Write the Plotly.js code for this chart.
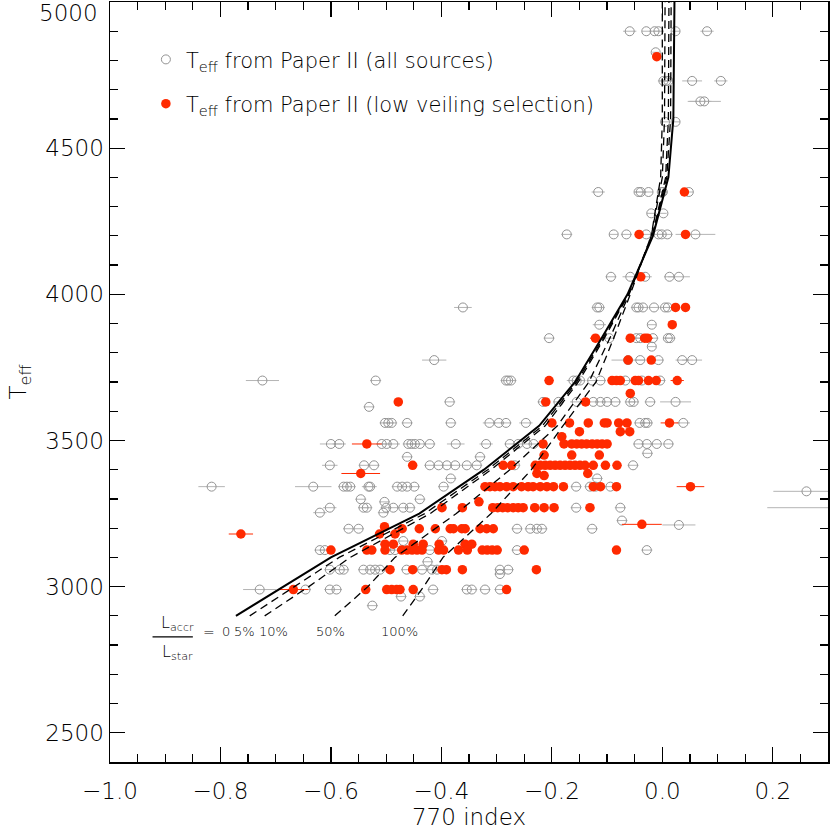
<!DOCTYPE html>
<html>
<head>
<meta charset="utf-8">
<script src="https://cdn.plot.ly/plotly-3.0.1.min.js"></script>
<style>
  html, body { margin: 0; padding: 0; background: #fff; }
  #graph { width: 830px; height: 830px; }
</style>
</head>
<body>
<div id="graph"></div>
<script>
// [770 index, Teff, error on index]
var allSources = [
  [-0.059,4900,.012],[-0.029,4900,.008],[-0.014,4900,.008],[-0.007,4900,.010],[0.024,4900,.008],[0.081,4900,.012],
  [-0.012,4828,.006],
  [0.002,4730,.010],[0.007,4730,.010],[0.011,4730,.010],[0.054,4730,.018],[0.106,4730,.012],
  [0.069,4660,.020],[0.076,4660,.030],
  [0.005,4590,.008],[0.024,4590,.008],
  [-0.116,4350,.012],[-0.043,4350,.008],[-0.039,4350,.010],[-0.025,4350,.008],[-0.001,4350,.006],[0.001,4350,.006],[0.048,4350,.008],
  [-0.020,4277,.008],[0.002,4277,.006],
  [-0.173,4205,.010],[-0.088,4205,.008],[-0.065,4205,.010],[-0.029,4205,.012],[-0.007,4205,.010],[-0.001,4205,.008],[0.009,4205,.010],[0.060,4205,.036],
  [-0.093,4060,.010],[-0.058,4060,.014],[-0.031,4060,.012],[0.013,4060,.010],[0.030,4060,.020],
  [-0.361,3955,.016],[-0.118,3955,.010],[-0.114,3955,.010],[-0.047,3955,.010],[-0.043,3955,.010],[-0.035,3955,.010],[-0.015,3955,.010],[0.005,3955,.010],[0.010,3955,.010],
  [-0.114,3896,.012],[-0.019,3896,.008],
  [-0.205,3850,.010],[-0.096,3850,.010],[-0.047,3850,.010],[-0.040,3850,.010],[-0.017,3850,.010],[0.010,3850,.008],[0.014,3850,.010],
  [-0.019,3821,.008],
  [-0.413,3775,.022],[-0.062,3775,.030],[-0.040,3775,.010],[-0.007,3775,.010],[0.036,3775,.012],[0.054,3775,.018],
  [-0.724,3705,.030],[-0.519,3705,.010],[-0.283,3705,.010],[-0.279,3705,.010],[-0.274,3705,.010],[-0.161,3705,.012],[-0.155,3705,.010],[-0.149,3705,.010],[-0.127,3705,.010],[-0.112,3705,.010],[-0.067,3705,.010],[-0.037,3705,.010],[-0.004,3705,.010],
  [-0.385,3632,.010],[-0.216,3632,.010],[-0.188,3632,.010],[-0.155,3632,.012],[-0.125,3632,.010],[-0.112,3632,.010],[-0.100,3632,.010],[-0.085,3632,.010],[-0.058,3632,.010],[-0.052,3632,.010],[-0.022,3632,.010],[0.024,3632,.028],
  [-0.531,3615,.010],
  [-0.502,3560,.010],[-0.496,3560,.010],[-0.490,3560,.010],[-0.462,3560,.010],[-0.383,3560,.010],[-0.313,3560,.012],[-0.296,3560,.010],[-0.283,3560,.010],[-0.247,3560,.012],[-0.041,3560,.010],[-0.031,3560,.010],[-0.027,3560,.010],[0.038,3560,.012],
  [-0.600,3488,.020],[-0.585,3488,.012],[-0.508,3488,.010],[-0.499,3488,.010],[-0.487,3488,.012],[-0.460,3488,.010],[-0.454,3488,.010],[-0.448,3488,.010],[-0.439,3488,.010],[-0.421,3488,.010],[-0.374,3488,.016],[-0.319,3488,.012],[-0.276,3488,.010],[-0.261,3488,.010],[-0.245,3488,.010],[-0.233,3488,.010],[-0.043,3488,.010],[-0.028,3488,.010],[-0.010,3488,.010],[0.011,3488,.010],
  [-0.027,3456,.010],
  [-0.462,3444,.010],[-0.330,3444,.010],
  [-0.602,3415,.014],[-0.540,3415,.010],[-0.522,3415,.010],[-0.421,3415,.010],[-0.405,3415,.010],[-0.390,3415,.010],[-0.375,3415,.010],[-0.354,3415,.010],[-0.336,3415,.010],[-0.267,3415,.010],[-0.053,3415,.010],
  [-0.383,3370,.010],[-0.118,3370,.010],
  [-0.816,3342,.024],[-0.632,3342,.033],[-0.577,3342,.010],[-0.571,3342,.010],[-0.565,3342,.010],[-0.532,3342,.012],[-0.529,3342,.012],[-0.480,3342,.010],[-0.471,3342,.010],[-0.462,3342,.010],[-0.449,3342,.010],[-0.396,3342,.010],[-0.156,3342,.010],[-0.131,3342,.010],[-0.121,3342,.010],[-0.094,3342,.010],
  [0.261,3326,.060],
  [-0.546,3299,.010],[-0.439,3299,.010],
  [-0.503,3290,.010],
  [-0.602,3270,.012],[-0.541,3270,.010],[-0.535,3270,.010],[-0.500,3270,.010],[-0.487,3270,.010],[-0.469,3270,.010],[-0.457,3270,.010],[-0.156,3270,.010],[-0.076,3270,.010],[0.330,3270,.140],
  [-0.620,3253,.012],[-0.505,3253,.010],
  [-0.073,3226,.010],
  [0.030,3211,.030],
  [-0.568,3198,.010],[-0.550,3198,.010],[-0.263,3198,.010],[-0.239,3198,.010],[-0.227,3198,.010],[-0.218,3198,.010],[-0.127,3198,.010],
  [-0.469,3156,.010],[-0.399,3156,.010],
  [-0.620,3125,.010],[-0.611,3125,.010],[-0.493,3125,.010],[-0.484,3125,.010],[-0.421,3125,.010],[-0.263,3125,.010],[-0.028,3125,.010],
  [-0.425,3085,.010],
  [-0.602,3058,.010],[-0.584,3058,.010],[-0.577,3058,.010],[-0.541,3058,.010],[-0.529,3058,.010],[-0.520,3058,.010],[-0.511,3058,.010],[-0.463,3058,.010],[-0.435,3058,.010],[-0.417,3058,.010],[-0.408,3058,.010],[-0.294,3058,.010],[-0.279,3058,.010],
  [-0.294,3043,.010],
  [-0.729,2990,.030],[-0.646,2990,.010],[-0.602,2990,.010],[-0.590,2990,.010],[-0.415,2990,.010],[-0.354,2990,.010],[-0.345,2990,.010],[-0.321,2990,.010],[-0.294,2990,.010],
  [-0.473,2966,.010],[-0.439,2966,.010],
  [-0.525,2935,.010]
];

var lowVeiling = [
  [-0.010,4813,.008],
  [0.040,4350,.008],
  [-0.042,4205,.008],[0.042,4205,.008],
  [-0.039,4060,.008],
  [0.024,3955,.008],[0.042,3955,.008],
  [0.018,3896,.006],
  [-0.121,3850,.010],[-0.058,3850,.008],[-0.032,3850,.008],[-0.027,3850,.010],
  [-0.062,3775,.008],[-0.020,3775,.008],
  [-0.205,3705,.008],[-0.091,3705,.008],[-0.083,3705,.008],[-0.076,3705,.008],[-0.049,3705,.008],[-0.043,3705,.008],[-0.025,3705,.008],[-0.011,3705,.008],[0.027,3705,.012],
  [-0.058,3661,.008],
  [-0.478,3632,.008],[-0.211,3632,.008],[-0.139,3632,.008],
  [-0.200,3560,.008],[-0.168,3560,.008],[-0.134,3560,.008],[-0.105,3560,.008],[-0.100,3560,.008],[-0.079,3560,.008],[-0.064,3560,.008],[0.013,3560,.016],
  [-0.150,3530,.008],[-0.076,3530,.008],[-0.059,3530,.008],
  [-0.182,3513,.008],
  [-0.535,3488,.027],[-0.216,3488,.008],[-0.178,3488,.008],[-0.164,3488,.008],[-0.155,3488,.008],[-0.146,3488,.008],[-0.137,3488,.008],[-0.127,3488,.008],[-0.118,3488,.008],[-0.109,3488,.008],[-0.100,3488,.008],
  [-0.214,3450,.008],[-0.164,3450,.008],[-0.114,3450,.008],
  [-0.452,3415,.006],[-0.288,3415,.008],[-0.273,3415,.008],[-0.230,3415,.008],[-0.221,3415,.008],[-0.212,3415,.008],[-0.203,3415,.008],[-0.194,3415,.008],[-0.185,3415,.008],[-0.176,3415,.008],[-0.167,3415,.008],[-0.158,3415,.008],[-0.149,3415,.008],[-0.140,3415,.008],[-0.125,3415,.008],[-0.103,3415,.008],[-0.082,3415,.008],
  [-0.546,3387,.035],[-0.227,3387,.008],[-0.135,3387,.008],
  [-0.214,3380,.008],
  [-0.321,3342,.008],[-0.312,3342,.008],[-0.303,3342,.008],[-0.294,3342,.008],[-0.282,3342,.008],[-0.270,3342,.008],[-0.255,3342,.008],[-0.243,3342,.008],[-0.234,3342,.008],[-0.221,3342,.008],[-0.209,3342,.008],[-0.197,3342,.008],[-0.179,3342,.008],[-0.125,3342,.008],[-0.112,3342,.008],[-0.083,3342,.008],[0.051,3342,.025],
  [-0.332,3290,.008],
  [-0.399,3270,.008],[-0.362,3270,.008],[-0.307,3270,.008],[-0.298,3270,.008],[-0.289,3270,.008],[-0.280,3270,.008],[-0.270,3270,.008],[-0.261,3270,.008],[-0.252,3270,.008],[-0.231,3270,.008],[-0.214,3270,.008],[-0.196,3270,.008],[-0.131,3270,.008],
  [-0.037,3213,.036],
  [-0.503,3205,.008],
  [-0.471,3198,.008],[-0.440,3198,.008],[-0.411,3198,.008],[-0.384,3198,.008],[-0.378,3198,.008],[-0.363,3198,.008],[-0.357,3198,.008],[-0.330,3198,.008],[-0.318,3198,.008],[-0.306,3198,.008],
  [-0.763,3180,.022],[-0.512,3180,.008],[-0.484,3180,.008],
  [-0.502,3145,.008],[-0.487,3145,.008],[-0.451,3145,.008],[-0.433,3145,.008],[-0.404,3145,.008],[-0.357,3145,.008],[-0.345,3145,.008],
  [-0.600,3125,.008],[-0.535,3125,.008],[-0.526,3125,.008],[-0.502,3125,.008],[-0.472,3125,.008],[-0.462,3125,.008],[-0.453,3125,.008],[-0.444,3125,.008],[-0.435,3125,.008],[-0.405,3125,.008],[-0.396,3125,.008],[-0.369,3125,.008],[-0.353,3125,.008],[-0.326,3125,.008],[-0.317,3125,.008],[-0.308,3125,.008],[-0.299,3125,.008],[-0.250,3125,.008],[-0.083,3125,.008],
  [-0.493,3058,.008],[-0.452,3058,.008],[-0.399,3058,.008],[-0.391,3058,.008],[-0.362,3058,.008],[-0.228,3058,.008],
  [-0.668,2990,.027],[-0.537,2990,.008],[-0.499,2990,.008],[-0.490,2990,.008],[-0.481,2990,.008],[-0.475,2990,.008],[-0.451,2990,.008],[-0.282,2990,.008]
];

// accretion models, Laccr/Lstar = 0, 5%, 10%, 50%, 100%
var modelTeff = [2900, 3000, 3100, 3250, 3400, 3550, 3700, 3850, 4000, 4200, 4400, 4600, 5000];
var idx0   = [-0.772, -0.685, -0.600, -0.440, -0.323, -0.223, -0.158, -0.110, -0.063, -0.017, 0.011, 0.020, 0.022];
var idx5   = [-0.747, -0.665, -0.585, -0.430, -0.316, -0.217, -0.155, -0.107, -0.062, -0.018, 0.008, 0.015, 0.016];
var idx10  = [-0.720, -0.640, -0.565, -0.420, -0.310, -0.212, -0.152, -0.105, -0.061, -0.018, 0.006, 0.011, 0.012];
var idx50  = [-0.593, -0.533, -0.484, -0.373, -0.276, -0.190, -0.133, -0.095, -0.060, -0.020, 0.000, 0.004, 0.005];
var idx100 = [-0.470, -0.432, -0.397, -0.310, -0.237, -0.180, -0.120, -0.088, -0.058, -0.020, -0.003, 0.000, 0.000];
var modelLabels = ['0', '5%', '10%', '50%', '100%'];

var FONT = 'DejaVu Sans, Verdana, sans-serif';
var W = 200;   // thin strokes, like the vector font of the original
var RED = '#ff2a00';

function col(arr, i) { return arr.map(function (r) { return r[i]; }); }

function drawGraph() {
    var allTrace, lowTrace, data, layout, labelX, annotations;

    allTrace = {
        x: col(allSources, 0), y: col(allSources, 1),
        error_x: {type: 'data', array: col(allSources, 2), color: '#b4b4b4', thickness: 1, width: 0},
        type: 'scatter', mode: 'markers',
        name: 'T<sub>eff</sub> from Paper II (all sources)',
        legendgroup: 'a',
        marker: {symbol: 'circle-open', size: 9, color: '#939393', line: {width: 1}}
    };

    lowTrace = {
        x: col(lowVeiling, 0), y: col(lowVeiling, 1),
        error_x: {type: 'data', array: col(lowVeiling, 2), color: RED, thickness: 1, width: 0},
        type: 'scatter', mode: 'markers',
        name: 'T<sub>eff</sub> from Paper II (low veiling selection)',
        legendgroup: 'b',
        marker: {symbol: 'circle', size: 9.5, color: RED}
    };

    data = [allTrace, lowTrace];

    [idx0, idx5, idx10, idx50, idx100].forEach(function (xs, i) {
        data.push({
            x: xs, y: modelTeff, type: 'scatter', mode: 'lines', showlegend: false,
            line: i === 0 ? {color: '#000', width: 2} : {color: '#000', width: 1.3, dash: '8px,5px'}
        });
    });

    // label positions under the ends of the model curves
    labelX = [-0.790, -0.756, -0.704, -0.600, -0.475];
    annotations = modelLabels.map(function (t, i) {
        return {x: labelX[i], y: 2845, xref: 'x', yref: 'y', text: t, showarrow: false,
                font: {family: FONT, size: 13, weight: W, color: '#000'}};
    });
    annotations.push(
        {x: -0.821, y: 2845, xref: 'x', yref: 'y', text: '=', showarrow: false, font: {family: FONT, size: 14, weight: W, color: '#000'}},
        {x: -0.877, y: 2874, xref: 'x', yref: 'y', text: 'L<sub>accr</sub>', showarrow: false, font: {family: FONT, size: 16, weight: W, color: '#000'}},
        {x: -0.877, y: 2776, xref: 'x', yref: 'y', text: 'L<sub>star</sub>', showarrow: false, font: {family: FONT, size: 16, weight: W, color: '#000'}},
        {x: 0, y: 1, xref: 'paper', yref: 'paper', xanchor: 'right', yanchor: 'middle', xshift: -10, yshift: -11,
         text: '5000', showarrow: false, font: {family: FONT, size: 23, weight: W, color: '#000'}}
    );

    layout = {
        width: 830, height: 830,
        margin: {l: 110, r: 2, t: 2, b: 68},
        paper_bgcolor: '#fff', plot_bgcolor: '#fff',
        font: {family: FONT, size: 23, weight: W, color: '#000'},
        showlegend: true,
        legend: {x: 0.05, y: 0.951, xanchor: 'left', yanchor: 'top', bgcolor: 'rgba(0,0,0,0)',
                 font: {family: FONT, size: 21, weight: W}, tracegroupgap: 14},
        xaxis: {
            range: [-1.0, 0.3], tick0: -1.0, dtick: 0.2, tickformat: '.1f',
            ticks: 'inside', ticklen: 15, tickwidth: 1.2, tickcolor: '#000', ticklabelstandoff: 8,
            tickfont: {family: FONT, size: 23, weight: W},
            minor: {dtick: 0.05, tick0: -1.0, ticks: 'inside', ticklen: 8, tickwidth: 1.2, tickcolor: '#000'},
            showline: true, linewidth: 1.5, linecolor: '#000', mirror: 'allticks',
            showgrid: false, zeroline: false,
            title: {text: '770 index', standoff: 6, font: {family: FONT, size: 23, weight: W}}
        },
        yaxis: {
            range: [2400, 5000], tickmode: 'array', tickvals: [2500, 3000, 3500, 4000, 4500],
            ticks: 'inside', ticklen: 15, tickwidth: 1.2, tickcolor: '#000',
            tickfont: {family: FONT, size: 23, weight: W},
            minor: {dtick: 100, tick0: 2400, ticks: 'inside', ticklen: 8, tickwidth: 1.2, tickcolor: '#000'},
            showline: true, linewidth: 1.5, linecolor: '#000', mirror: 'allticks',
            showgrid: false, zeroline: false,
            title: {text: 'T<sub>eff</sub>', standoff: 12, font: {family: FONT, size: 23, weight: W}}
        },
        shapes: [
            {type: 'line', xref: 'x', yref: 'y', x0: -0.923, x1: -0.850, y0: 2828, y1: 2828,
             line: {color: '#000', width: 1.2}}
        ],
        annotations: annotations
    };

    Plotly.newPlot('graph', data, layout, {displayModeBar: false, staticPlot: true});
}

drawGraph();
</script>
</body>
</html>
